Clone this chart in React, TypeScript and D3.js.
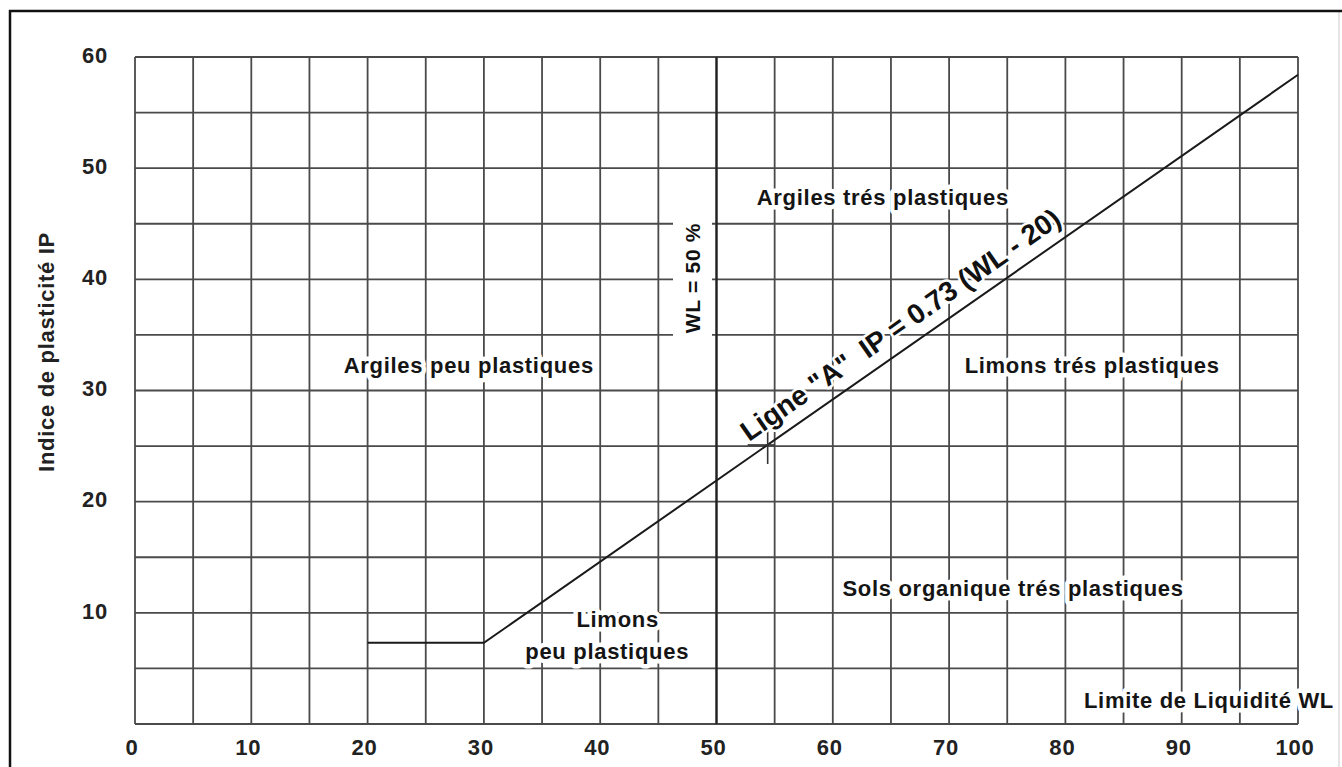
import React from "react";
import * as d3 from "d3";

const xTicks = [0, 10, 20, 30, 40, 50, 60, 70, 80, 90, 100];
const yTicks = [10, 20, 30, 40, 50, 60];
const gridStep = 5;
const aLineFlat = [{ wl: 20, ip: 7.3 }, { wl: 30, ip: 7.3 }];
const aLineSlope = 0.73;
const aLineOffset = 20;
const aLineEndWL = 100;
const markerPoint = { wl: 54.4, ip: 25.1 };
const wlDivider = 50;

const zoneLabels = [
  { text: "Argiles peu plastiques", wl: 28.7, ip: 32.3 },
  { text: "Argiles trés plastiques", wl: 64.3, ip: 47.4 },
  { text: "Limons trés plastiques", wl: 82.3, ip: 32.3 },
  { text: "Sols organique trés plastiques", wl: 75.5, ip: 12.2 },
  { text: "Limons", wl: 41.5, ip: 9.4 },
  { text: "peu plastiques", wl: 40.6, ip: 6.5 },
];

const W = 1342;
const H = 767;
const x = d3.scaleLinear().domain([0, 100]).range([135, 1298]);
const y = d3.scaleLinear().domain([0, 60]).range([724, 57]);
const FONT = "'Liberation Sans', Arial, Helvetica, sans-serif";

export default function App() {
  const gridX = d3.range(0, 100 + 0.001, gridStep);
  const gridY = d3.range(0, 60 + 0.001, gridStep);
  const linePts = [
    ...aLineFlat,
    { wl: aLineEndWL, ip: aLineSlope * (aLineEndWL - aLineOffset) },
  ];
  const lineGen = d3
    .line<{ wl: number; ip: number }>()
    .x((d) => x(d.wl))
    .y((d) => y(d.ip));
  const angle =
    (Math.atan2(
      y(aLineSlope * 10) - y(0),
      x(aLineOffset + 10) - x(aLineOffset)
    ) *
      180) /
    Math.PI;
  const labelWL = 54.0;
  const lx = x(labelWL);
  const ly = y(aLineSlope * (labelWL - aLineOffset));
  const mx = x(markerPoint.wl);
  const my = y(markerPoint.ip);
  const halo = {
    stroke: "#fff",
    strokeWidth: 9,
    paintOrder: "stroke" as const,
    strokeLinejoin: "round" as const,
  };
  const LS = 0.7;

  return (
    <svg
      width={W}
      height={H}
      style={{ position: "absolute", left: 0, top: 0, display: "block", background: "#fff" }}
      fontFamily={FONT}
    >
      <rect x={0} y={0} width={W} height={H} fill="#fff" />
      <line x1={1339} x2={1339} y1={11} y2={H} stroke="#ddd" strokeWidth={1.5} />
      <line x1={10} x2={10} y1={10} y2={H} stroke="#111" strokeWidth={2.5} />
      <line x1={9} x2={W} y1={11} y2={11} stroke="#111" strokeWidth={2.5} />
      <g stroke="#4a4a4a" strokeWidth={1.8}>
        {gridX.map((v) => (
          <line key={"gx" + v} x1={x(v)} x2={x(v)} y1={y(0)} y2={y(60)} />
        ))}
        {gridY.map((v) => (
          <line key={"gy" + v} x1={x(0)} x2={x(100)} y1={y(v)} y2={y(v)} />
        ))}
      </g>
      <line
        x1={x(wlDivider)}
        x2={x(wlDivider)}
        y1={y(0)}
        y2={y(60)}
        stroke="#222"
        strokeWidth={2.2}
      />
      <rect x={673} y={200} width={39} height={146} fill="#fff" />
      <text
        transform={`translate(${x(wlDivider) - 24},278) rotate(-90)`}
        textAnchor="middle"
        dy="0.35em"
        fontSize={21}
        fontWeight="bold"
        letterSpacing={LS}
        fill="#111"
      >
        WL = 50 %
      </text>
      <path d={lineGen(linePts) || ""} fill="none" stroke="#1a1a1a" strokeWidth={2} />
      <g stroke="#333" strokeWidth={1.6}>
        <line x1={mx} x2={mx} y1={my - 17} y2={my + 19} />
        <line x1={mx - 20} x2={mx + 7} y1={my} y2={my} />
      </g>
      <text
        transform={`translate(${lx},${ly}) rotate(${angle}) translate(-8,-13)`}
        fontSize={28}
        fontWeight="bold"
        fill="#111"
        style={{ whiteSpace: "pre" }}
        {...halo}
        strokeWidth={5}
      >
        {'Ligne "A"  IP = 0.73 (WL - 20)'}
      </text>
      {zoneLabels.map((l) => (
        <text
          key={l.text}
          x={x(l.wl)}
          y={y(l.ip)}
          textAnchor="middle"
          dy="0.35em"
          fontSize={22}
          fontWeight="bold"
          letterSpacing={LS}
          fill="#151515"
          {...halo}
        >
          {l.text}
        </text>
      ))}
      <text
        x={1334}
        y={700}
        dy="0.35em"
        textAnchor="end"
        fontSize={22}
        fontWeight="bold"
        letterSpacing={LS}
        fill="#151515"
        {...halo}
      >
        Limite de Liquidité WL
      </text>
      <text
        transform="translate(46,352) rotate(-90)"
        textAnchor="middle"
        dy="0.35em"
        fontSize={22}
        fontWeight="bold"
        letterSpacing={LS}
        fill="#222"
      >
        Indice de plasticité IP
      </text>
      {xTicks.map((t) => (
        <text
          key={"xt" + t}
          x={x(t) - 3}
          y={747}
          dy="0.35em"
          textAnchor="middle"
          fontSize={22}
          fontWeight="bold"
          letterSpacing={0.8}
          fill="#222"
        >
          {t}
        </text>
      ))}
      {yTicks.map((t) => (
        <text
          key={"yt" + t}
          x={108}
          y={y(t) - 2}
          dy="0.35em"
          textAnchor="end"
          fontSize={22}
          fontWeight="bold"
          letterSpacing={0.8}
          fill="#222"
        >
          {t}
        </text>
      ))}
    </svg>
  );
}
